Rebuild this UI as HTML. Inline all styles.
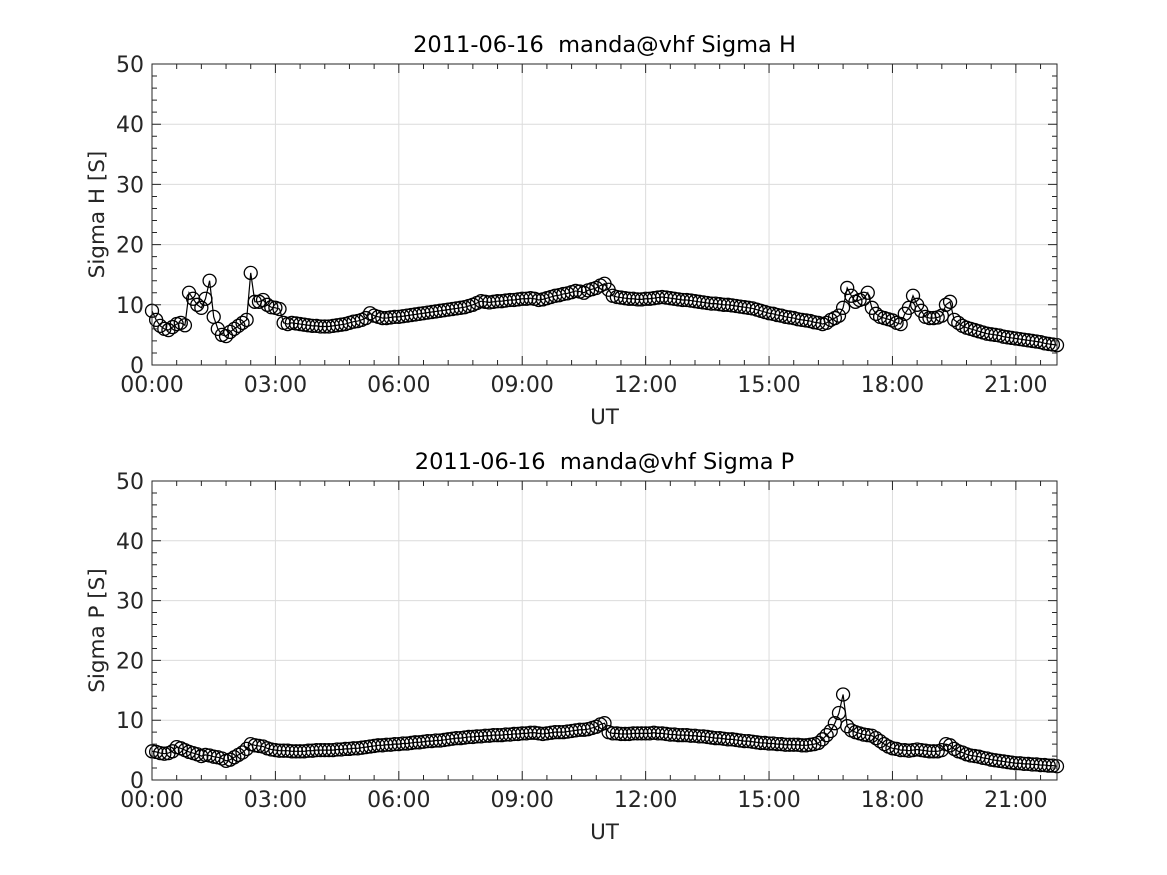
<!DOCTYPE html>
<html><head><meta charset="utf-8"><style>
html,body{margin:0;padding:0;background:#fff;}
svg{display:block;font-family:"DejaVu Sans","Liberation Sans",sans-serif;}
</style></head><body>
<svg id="fig" width="1167" height="875" viewBox="0 0 1167 875" xmlns="http://www.w3.org/2000/svg"></svg>
<script>
const xTicks = [0,3,6,9,12,15,18,21];
const xTickLabels = ["00:00","03:00","06:00","09:00","12:00","15:00","18:00","21:00"];
const yTicks = [0,10,20,30,40,50];
const tStep = 0.1;
const sigmaH = [
9,7.5,6.5,6,5.8,6.3,6.8,7,6.6,12,
11,10,9.5,11,14,8,6,5,4.8,5.5,
6,6.5,7,7.5,15.3,10.5,10.5,10.8,10,9.6,
9.5,9.3,7,6.8,7,6.9,6.8,6.7,6.6,6.5,
6.5,6.4,6.4,6.4,6.5,6.6,6.7,6.8,7,7.2,
7.3,7.5,7.8,8.6,8.2,8,7.8,7.8,7.9,8,
8,8.1,8.2,8.3,8.4,8.5,8.6,8.7,8.8,8.9,
9,9.1,9.2,9.3,9.4,9.5,9.6,9.8,10,10.3,
10.6,10.5,10.4,10.5,10.6,10.6,10.7,10.8,10.8,10.9,
11,11,11.1,11,10.8,10.9,11.1,11.3,11.5,11.6,
11.8,11.9,12.1,12.3,12.2,12,12.4,12.6,12.8,13.2,
13.5,12.5,11.5,11.3,11.2,11.1,11,11,10.9,10.9,
11,11,11.1,11.2,11.3,11.2,11.1,11,10.9,10.8,
10.8,10.7,10.6,10.5,10.4,10.3,10.2,10.2,10.1,10,
10,9.9,9.8,9.7,9.6,9.5,9.4,9.2,9,8.8,
8.6,8.5,8.3,8.2,8,7.9,7.8,7.6,7.5,7.4,
7.3,7.1,7,6.8,7,7.5,7.8,8.2,9.5,12.8,
11.5,10.5,10.8,11,12,9.5,8.5,8,7.8,7.6,
7.4,7,6.8,8.5,9.5,11.5,10,9,8,7.8,
7.8,7.9,8.2,10,10.5,7.5,7,6.5,6.2,6,
5.8,5.6,5.4,5.2,5.1,5,4.9,4.7,4.6,4.5,
4.4,4.3,4.2,4.1,4,3.9,3.8,3.6,3.5,3.4,
3.3];
const sigmaP = [
4.8,4.7,4.5,4.4,4.5,4.8,5.5,5.3,5,4.7,
4.5,4.3,4,4.2,4.1,3.9,3.8,3.6,3.2,3.4,
3.8,4.2,4.6,5.2,6,5.8,5.7,5.6,5.3,5.1,
5,4.9,4.9,4.9,4.8,4.8,4.8,4.8,4.9,4.9,
5,5,5,5,5,5.1,5.1,5.2,5.2,5.3,
5.3,5.4,5.5,5.6,5.7,5.8,5.8,5.9,5.9,6,
6,6.1,6.1,6.2,6.3,6.3,6.4,6.5,6.5,6.6,
6.6,6.7,6.8,6.9,7,7,7.1,7.2,7.2,7.3,
7.3,7.4,7.4,7.5,7.5,7.5,7.6,7.6,7.7,7.7,
7.8,7.8,7.9,7.9,7.8,7.7,7.8,7.9,8,8,
8,8.1,8.2,8.3,8.4,8.4,8.5,8.7,8.9,9.3,
9.5,8,7.8,7.8,7.7,7.7,7.7,7.8,7.8,7.8,
7.8,7.8,7.9,7.8,7.8,7.7,7.6,7.6,7.5,7.5,
7.5,7.4,7.4,7.3,7.3,7.2,7.1,7,7,6.9,
6.8,6.8,6.7,6.6,6.5,6.5,6.4,6.3,6.2,6.2,
6.1,6.1,6,6,5.9,5.9,5.9,5.9,5.8,5.8,
5.9,6,6.2,6.8,7.5,8.2,9.5,11.2,14.3,9,
8.3,8,7.8,7.6,7.5,7.4,7,6.5,6,5.6,
5.3,5.2,5,5,4.9,5,5.1,5,4.9,4.8,
4.8,4.8,5,6,5.8,5.2,4.8,4.6,4.3,4.1,
4,3.9,3.7,3.6,3.4,3.3,3.2,3.1,3,2.9,
2.8,2.8,2.7,2.7,2.6,2.6,2.5,2.5,2.4,2.4,
2.3];

const NS = "http://www.w3.org/2000/svg";
const svg = document.getElementById('fig');
function mk(tag, attrs, parent){const e=document.createElementNS(NS,tag);for(const k in attrs)e.setAttribute(k,attrs[k]);(parent||svg).appendChild(e);return e;}

function panel(prefix, top, bottom, title, ylabel, data){
  const L=152, R=1057, xMax=22, yMax=50;
  const xs = t => L + (R-L)*t/xMax;
  const ys = v => bottom - (bottom-top)*v/yMax;
  const g = mk('g',{});
  
  
  xTicks.forEach(t=>{const l=mk('line',{x1:xs(t),x2:xs(t),y1:top,y2:bottom,stroke:'#dcdcdc','stroke-width':1},g);
    });
  yTicks.forEach(v=>{const l=mk('line',{x1:L,x2:R,y1:ys(v),y2:ys(v),stroke:'#dcdcdc','stroke-width':1},g);
    });
  let d='';
  data.forEach((v,i)=>{d+=(i?'L':'M')+xs(i*tStep).toFixed(2)+','+ys(v).toFixed(2);});
  const line=mk('path',{d:d,fill:'none',stroke:'#000','stroke-width':1.2},g);
  
  
  data.forEach((v,i)=>{const c=mk('circle',{cx:xs(i*tStep),cy:ys(v),r:6.5,fill:'none',stroke:'#000','stroke-width':1.3},g);
    
    });
  const box=mk('rect',{x:L,y:top,width:R-L,height:bottom-top,fill:'none',stroke:'#262626','stroke-width':1},g);
  
  
  let td='';
  for(let k=0;k<=xMax*5/3;k++){const t=k*0.6;if(t>xMax+1e-6)break;const x=xs(t);const major=(k%5===0);const len=major?9:5;
    td+=`M${x},${bottom}v${-len}M${x},${top}v${len}`;}
  for(let k=0;k<=25;k++){const v=k*2;const y=ys(v);const major=(k%5===0);const len=major?9:5;
    td+=`M${L},${y}h${len}M${R},${y}h${-len}`;}
  const tk=mk('path',{d:td,stroke:'#262626','stroke-width':1,fill:'none'},g);
  
  
  xTicks.forEach((t,i)=>{const tx=mk('text',{x:xs(t),y:bottom+27,'font-size':22,fill:'#262626','text-anchor':'middle'},g);tx.textContent=xTickLabels[i];
    });
  yTicks.forEach(v=>{const tx=mk('text',{x:L-8,y:ys(v)+8,'font-size':22,fill:'#262626','text-anchor':'end'},g);tx.textContent=String(v);
    });
  const xt=mk('text',{x:(L+R)/2,y:bottom+59,'font-size':21.5,fill:'#262626','text-anchor':'middle'},g);xt.textContent='UT';
  
  const yc=(top+bottom)/2;
  const yt=mk('text',{x:104,y:yc,'font-size':21.5,fill:'#262626','text-anchor':'middle',transform:`rotate(-90 104 ${yc})`},g);yt.textContent=ylabel;
  
  const ti=mk('text',{x:(L+R)/2,y:top-12,'font-size':22.5,fill:'#000','text-anchor':'middle'},g);
  ti.style.whiteSpace='pre';
  ti.textContent=title;
  
}
panel('sigma-h',64,365,'2011-06-16  manda@vhf Sigma H','Sigma H [S]',sigmaH);
panel('sigma-p',481,780,'2011-06-16  manda@vhf Sigma P','Sigma P [S]',sigmaP);
</script>
</body></html>
